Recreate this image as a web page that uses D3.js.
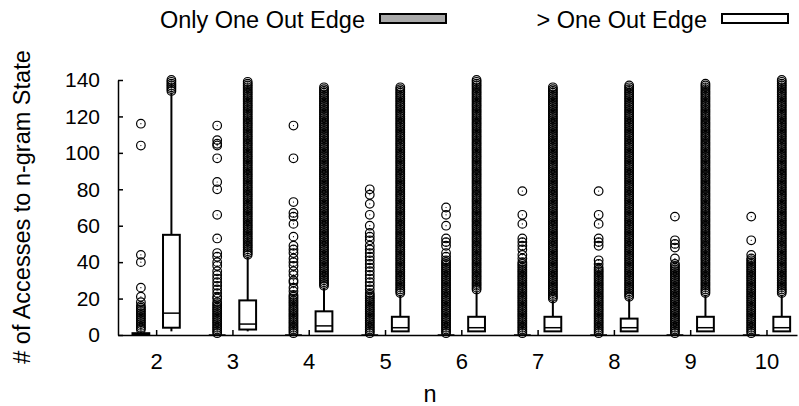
<!DOCTYPE html>
<html>
<head>
<meta charset="utf-8">
<script src="https://cdn.jsdelivr.net/npm/d3@7"></script>
<style>
  body { margin: 0; background: #fff; }
  text { font-family: "Liberation Sans", Arial, sans-serif; }
</style>
</head>
<body>
<svg id="chart" width="799" height="406"></svg>
<script>
// n-gram sizes on the x axis
const nValues = [2, 3, 4, 5, 6, 7, 8, 9, 10];
const yTicks = [0, 20, 40, 60, 80, 100, 120, 140];

// "Only One Out Edge" box stats per n
const oneQ1     = [0, 0, 0, 0, 0, 0, 0, 0, 0];
const oneMedian = [0, 0, 0, 0, 0, 0, 0, 0, 0];
const oneQ3     = [1, 0, 0, 0, 0, 0, 0, 0, 0];
const oneLow    = [0, 0, 0, 0, 0, 0, 0, 0, 0];
const oneHigh   = [2, 0, 0, 0, 0, 0, 0, 0, 0];
// runs [lo, hi] where every integer count is an outlier
const oneRuns = [[3, 16], [1, 18], [1, 22], [1, 23], [1, 41], [1, 40], [1, 37], [1, 39], [1, 42]];
const oneOutliers = [
  [116, 104, 44, 40, 26, 21, 18],
  [115, 107, 105, 104, 97, 84, 80, 66, 53, 45, 43, 40, 38, 35, 33, 31, 29, 27, 25, 23, 21, 20],
  [115, 97, 73, 67, 65, 61, 54, 49, 47, 45, 42, 40, 38, 35, 33, 30, 29, 26, 24],
  [80, 77, 72, 66, 60, 56, 54, 52, 49, 47, 45, 43, 41, 39, 37, 35, 33, 31, 29, 27, 25],
  [70, 66, 60, 53, 51, 49, 45, 43],
  [79, 66, 61, 53, 51, 49, 47, 44, 42],
  [79, 66, 61, 53, 51, 49, 41, 39],
  [65, 52, 50, 48, 42],
  [65, 52, 44]
];

// "> One Out Edge" box stats per n
const multiQ1     = [4, 3, 2, 2, 2, 2, 2, 2, 2];
const multiMedian = [12, 6, 5, 4, 4, 4, 4, 4, 4];
const multiQ3     = [55, 19, 13, 10, 10, 10, 9, 10, 10];
const multiLow    = [2, 2, 2, 2, 2, 2, 2, 2, 2];
const multiHigh   = [133, 43, 26, 22, 24, 19, 20, 22, 22];
const multiRuns = [[134, 140], [44, 139], [27, 136], [23, 136], [25, 140], [20, 136], [21, 137], [23, 138], [23, 140]];

const svg = d3.select("#chart");

const x = d3.scaleLinear().domain([1.5, 10.4]).range([118, 797]);
const y = d3.scaleLinear().domain([0, 140]).range([335, 80]);

const boxW = x(0.22) - x(0);

// axes
svg.append("g")
  .attr("transform", "translate(118,0)")
  .call(d3.axisLeft(y).tickValues(yTicks).tickSize(-5).tickSizeOuter(0).tickPadding(18))
  .call(g => g.selectAll("text").style("font-size", "21px").attr("fill", "#000"))
  .call(g => g.selectAll("line,path").attr("stroke", "#000").attr("stroke-width", 1.5));

svg.append("g")
  .attr("transform", "translate(0,335)")
  .call(d3.axisBottom(x).tickValues(nValues).tickSize(-5).tickSizeOuter(0).tickPadding(18).tickFormat(d3.format("d")))
  .call(g => g.selectAll("text").style("font-size", "22px").attr("fill", "#000"))
  .call(g => g.selectAll("line,path").attr("stroke", "#000").attr("stroke-width", 1.5));

function drawSeries(offset, fill, q1, med, q3, lo, hi, runs, extra) {
  const rows = nValues.map((n, i) => ({
    cx: x(n + offset), q1: q1[i], med: med[i], q3: q3[i], lo: lo[i], hi: hi[i],
    pts: d3.range(runs[i][0], runs[i][1] + 1).concat(extra ? extra[i] : [])
  }));
  const g = svg.append("g");
  const box = g.selectAll("g.box").data(rows).enter().append("g").attr("class", "box");

  box.append("line")
    .attr("x1", d => d.cx).attr("x2", d => d.cx)
    .attr("y1", d => y(d.q3)).attr("y2", d => y(d.hi))
    .attr("stroke", "#000").attr("stroke-width", 2);
  box.append("line")
    .attr("x1", d => d.cx).attr("x2", d => d.cx)
    .attr("y1", d => y(d.q1)).attr("y2", d => y(d.lo))
    .attr("stroke", "#000").attr("stroke-width", 2);
  box.append("rect")
    .attr("x", d => d.cx - boxW / 2).attr("width", boxW)
    .attr("y", d => y(d.q3)).attr("height", d => y(d.q1) - y(d.q3))
    .attr("fill", fill).attr("stroke", "#000").attr("stroke-width", 2);
  box.append("line")
    .attr("x1", d => d.cx - boxW / 2).attr("x2", d => d.cx + boxW / 2)
    .attr("y1", d => y(d.med)).attr("y2", d => y(d.med))
    .attr("stroke", "#000").attr("stroke-width", 1.5);

  box.each(function(d) {
    const s = d3.select(this);
    s.selectAll("circle.o").data(d.pts).enter().append("circle")
      .attr("class", "o")
      .attr("cx", d.cx).attr("cy", v => y(v)).attr("r", 4.3)
      .attr("fill", "none").attr("stroke", "#000").attr("stroke-width", 1.2);
    s.selectAll("circle.c").data(d.pts).enter().append("circle")
      .attr("class", "c")
      .attr("cx", d.cx).attr("cy", v => y(v)).attr("r", 0.6)
      .attr("fill", "#000");
  });
}

drawSeries(-0.2, "#a9a9a9", oneQ1, oneMedian, oneQ3, oneLow, oneHigh, oneRuns, oneOutliers);
drawSeries(0.2, "#fff", multiQ1, multiMedian, multiQ3, multiLow, multiHigh, multiRuns, null);

// legend
const legend = [
  { label: "Only One Out Edge", fill: "#a9a9a9", x: 380 },
  { label: "> One Out Edge", fill: "#fff", x: 722 }
];
legend.forEach(l => {
  svg.append("text").attr("x", l.x - 15).attr("y", 28)
    .attr("text-anchor", "end").style("font-size", "23.5px").text(l.label);
  svg.append("rect").attr("x", l.x).attr("y", 14).attr("width", 66).attr("height", 9)
    .attr("fill", l.fill).attr("stroke", "#000").attr("stroke-width", 2);
});

// axis titles
svg.append("text").attr("x", 430).attr("y", 402).attr("text-anchor", "middle")
  .style("font-size", "23.5px").text("n");
svg.append("text").attr("transform", "translate(30,207) rotate(-90)")
  .attr("text-anchor", "middle").style("font-size", "23.5px").text("# of Accesses to n-gram State");
</script>
</body>
</html>
